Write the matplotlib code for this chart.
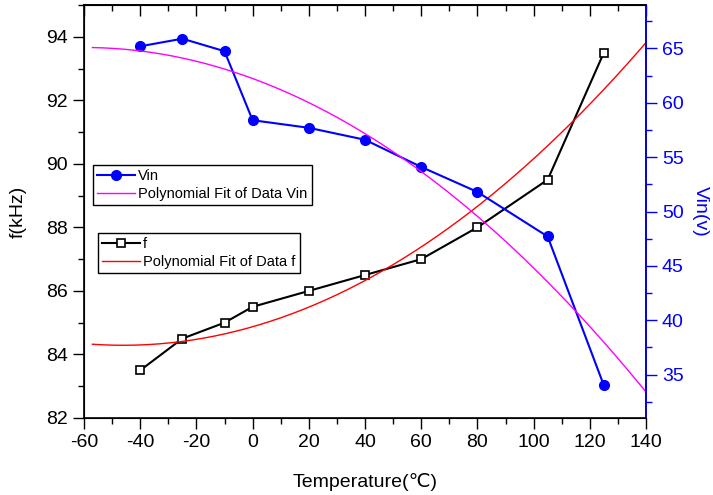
import numpy as np
import matplotlib
matplotlib.use('Agg')
import matplotlib.pyplot as plt
from matplotlib.ticker import MultipleLocator

plt.rcParams['font.family'] = ['Liberation Sans', 'DejaVu Sans']
plt.rcParams['axes.unicode_minus'] = False

# Data
temperature = [-40, -25, -10, 0, 20, 40, 60, 80, 105, 125]
f_khz = [83.5, 84.5, 85.0, 85.5, 86.0, 86.5, 87.0, 88.0, 89.5, 93.5]
vin = [65.2, 65.9, 64.75, 58.4, 57.7, 56.6, 54.1, 51.8, 47.7, 34.0]

# Polynomial fits (2nd order) of the data, drawn over the shown range
fit_x = np.linspace(-57, 140, 200)
f_fit = np.polyval(np.polyfit(temperature, f_khz, 2), fit_x)
vin_fit = np.polyval(np.polyfit(temperature, vin, 2), fit_x)

fig = plt.figure(figsize=(7.13, 4.95), dpi=100)
ax = fig.add_axes([84 / 713, 1 - 418 / 495, 562 / 713, 413 / 495])
ax2 = ax.twinx()

# f on the left axis
l_f, = ax.plot(temperature, f_khz, color='black', lw=1.5, marker='s', ms=6,
               mfc='white', mec='black', mew=1.2, label='f')
l_ffit, = ax.plot(fit_x, f_fit, color='red', lw=1.0, label='Polynomial Fit of Data f')

# Vin on the right axis
l_v, = ax2.plot(temperature, vin, color='blue', lw=1.5, marker='o', ms=7,
                label='Vin')
l_vfit, = ax2.plot(fit_x, vin_fit, color='magenta', lw=1.0,
                   label='Polynomial Fit of Data Vin')

ax.set_xlim(-60, 140)
ax.set_ylim(82, 95)
ax2.set_ylim(31, 69)

ax.xaxis.set_major_locator(MultipleLocator(20))
ax.xaxis.set_minor_locator(MultipleLocator(10))
ax.yaxis.set_major_locator(MultipleLocator(2))
ax.yaxis.set_minor_locator(MultipleLocator(1))
ax2.yaxis.set_major_locator(MultipleLocator(5))
ax2.yaxis.set_minor_locator(MultipleLocator(2.5))

ax.tick_params(axis='both', which='major', direction='out', length=8, width=1,
               labelsize=14)
ax.tick_params(axis='both', which='minor', direction='out', length=4, width=1)
ax2.tick_params(axis='y', which='major', direction='out', length=8, width=1,
                colors='blue', labelsize=14)
ax2.tick_params(axis='y', which='minor', direction='out', length=4, width=1,
                colors='blue')

# top axis with inward ticks, no labels
top = ax.secondary_xaxis('top')
top.xaxis.set_major_locator(MultipleLocator(20))
top.xaxis.set_minor_locator(MultipleLocator(10))
top.tick_params(which='major', direction='in', length=8, width=1, labeltop=False)
top.tick_params(which='minor', direction='in', length=4, width=1)

for s in ax.spines.values():
    s.set_linewidth(1.2)
ax2.spines['right'].set_color('blue')
ax2.spines['right'].set_linewidth(1.2)
top.spines['top'].set_linewidth(1.2)

ax.set_xlabel('Temperature(℃)', fontsize=14, labelpad=16)
ax.set_ylabel('f(kHz)', fontsize=14, labelpad=14)
ax2.set_ylabel('Vin(v)', fontsize=14, color='blue', rotation=270,
               labelpad=18)

leg_style = dict(loc='upper left', fontsize=10.5, frameon=True, fancybox=False,
                 edgecolor='black', framealpha=1, handlelength=2.6,
                 handletextpad=0.2, borderpad=0.3, labelspacing=0.25,
                 borderaxespad=0, numpoints=1)
leg1 = ax2.legend(handles=[l_v, l_vfit], bbox_to_anchor=(0.016, 0.613),
                  **leg_style)
leg1.get_frame().set_linewidth(1.0)
ax2.add_artist(leg1)
leg2 = ax2.legend(handles=[l_f, l_ffit], bbox_to_anchor=(0.025, 0.448),
                  **leg_style)
leg2.get_frame().set_linewidth(1.0)

fig.savefig('out.png', dpi=100)
